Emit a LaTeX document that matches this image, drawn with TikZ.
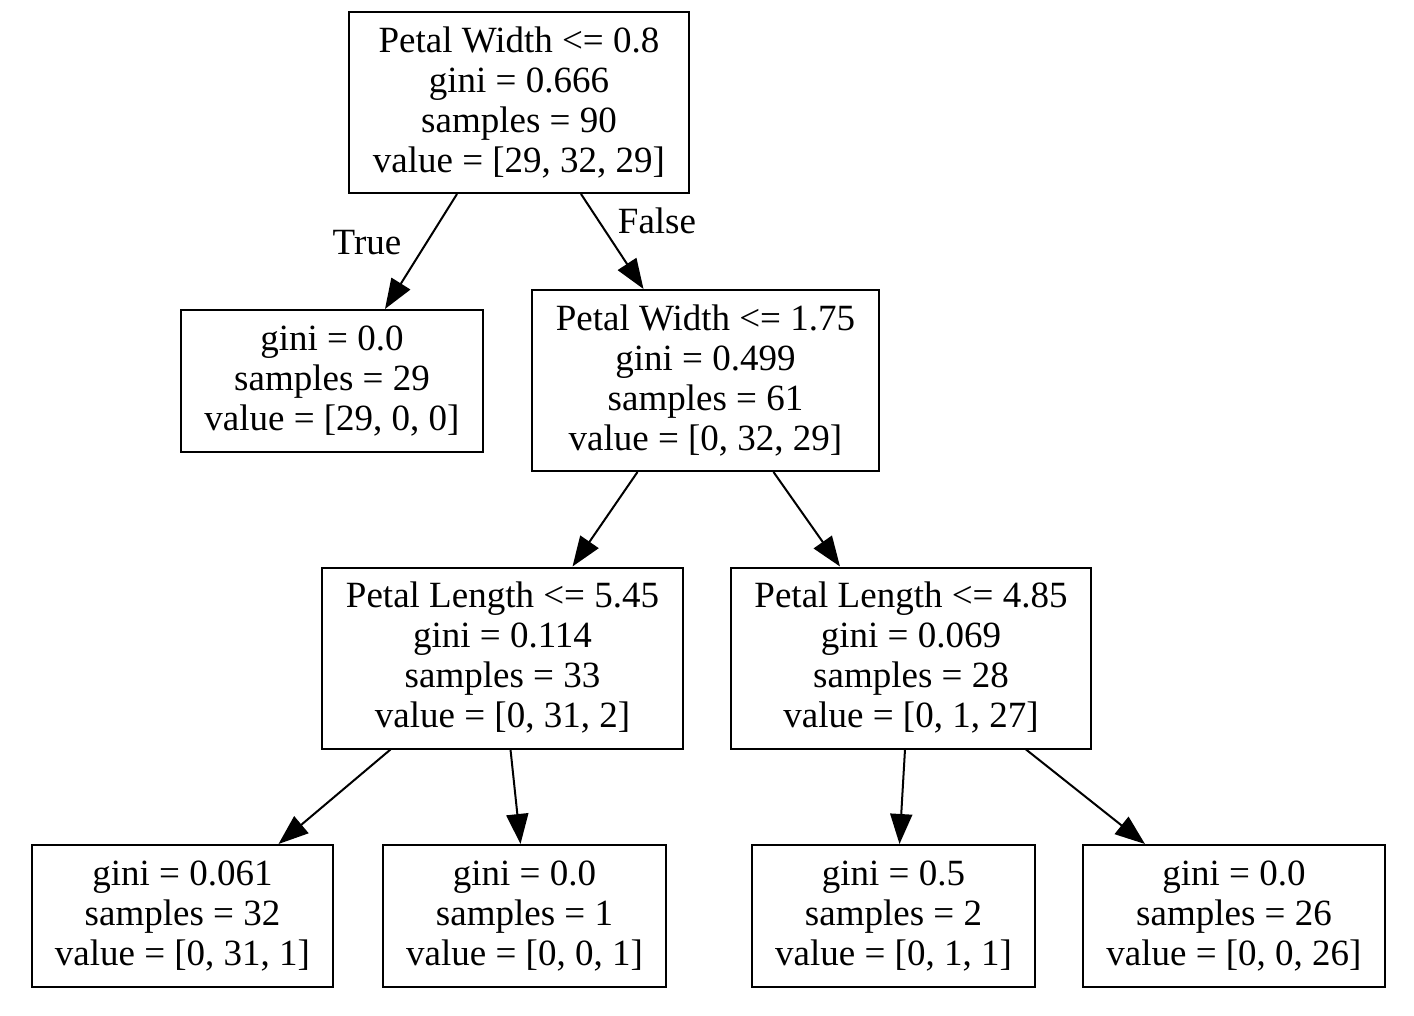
\documentclass[tikz,border=0pt]{standalone}
\usepackage{fontspec}
\setmainfont{Liberation Serif}
\usepackage{tikz}
\usetikzlibrary{arrows.meta}

\begin{document}
\begin{tikzpicture}[x=0.5pt, y=-0.5pt, every node/.style={font=\fontsize{18.5}{20}\selectfont}]
  \tikzstyle{box}=[draw, line width=1pt, align=center, inner sep=0pt, minimum height=90.5pt]
  \tikzstyle{leaf}=[box, minimum height=71pt]
  \tikzstyle{edge}=[line width=1pt, -{Triangle[length=15pt, width=11pt]}]
  \useasboundingbox (0,0) rectangle (1414,1016);
  % split nodes
  \node[box, minimum width=170pt] (root) at (519,102.5) {Petal Width <= 0.8\\gini = 0.666\\samples = 90\\value = [29, 32, 29]};
  \node[box, minimum width=173.5pt] (pw) at (705.5,380.5) {Petal Width <= 1.75\\gini = 0.499\\samples = 61\\value = [0, 32, 29]};
  \node[box, minimum width=180.5pt] (plA) at (502.5,658) {Petal Length <= 5.45\\gini = 0.114\\samples = 33\\value = [0, 31, 2]};
  \node[box, minimum width=180pt] (plB) at (911,658) {Petal Length <= 4.85\\gini = 0.069\\samples = 28\\value = [0, 1, 27]};
  % leaves
  \node[leaf, minimum width=151pt] (setosa) at (332,381) {gini = 0.0\\samples = 29\\value = [29, 0, 0]};
  \node[leaf, minimum width=150.5pt] (lfA) at (182.5,916) {gini = 0.061\\samples = 32\\value = [0, 31, 1]};
  \node[leaf, minimum width=141.5pt] (lfB) at (524.5,916) {gini = 0.0\\samples = 1\\value = [0, 0, 1]};
  \node[leaf, minimum width=141.5pt] (lfC) at (893.5,916) {gini = 0.5\\samples = 2\\value = [0, 1, 1]};
  \node[leaf, minimum width=151pt] (lfD) at (1234,916) {gini = 0.0\\samples = 26\\value = [0, 0, 26]};
  % edges
  \draw[edge] ([xshift=-31pt]root.south) -- ([xshift=26.5pt]setosa.north);
  \draw[edge] ([xshift=31pt]root.south) -- ([xshift=-31pt]pw.north);
  \draw[edge] ([xshift=-34pt]pw.south) -- ([xshift=35pt]plA.north);
  \draw[edge] ([xshift=34pt]pw.south) -- ([xshift=-35.5pt]plB.north);
  \draw[edge] ([xshift=-56pt]plA.south) -- ([xshift=48pt]lfA.north);
  \draw[edge] ([xshift=4pt]plA.south) -- ([xshift=-2pt]lfB.north);
  \draw[edge] ([xshift=-3pt]plB.south) -- ([xshift=3pt]lfC.north);
  \draw[edge] ([xshift=57.5pt]plB.south) -- ([xshift=-44.5pt]lfD.north);
  \node (lbltrue) at (367,243) {True};
  \node (lblfalse) at (657,221) {False};
\end{tikzpicture}
\end{document}
